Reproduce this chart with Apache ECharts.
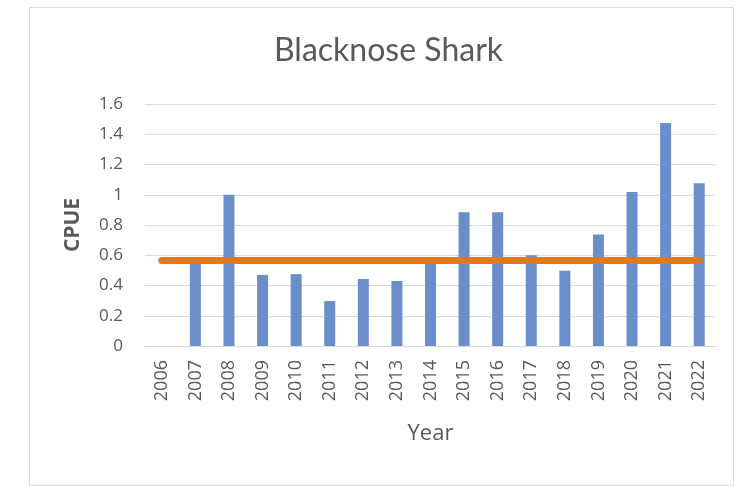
<!DOCTYPE html>
<html>
<head>
<meta charset="utf-8">
<script src="https://cdn.jsdelivr.net/npm/echarts@6/dist/echarts.min.js"></script>
<style>html,body{margin:0;padding:0;background:#fff}#c{width:744px;height:486px}</style>
</head>
<body>
<div id="c"></div>
<script>
var years = ['2006','2007','2008','2009','2010','2011','2012','2013','2014','2015','2016','2017','2018','2019','2020','2021','2022'];
var cpue = [null,0.55,1.00,0.47,0.475,0.297,0.443,0.43,0.55,0.885,0.885,0.60,0.498,0.737,1.018,1.474,1.076];
var meanCpue = [0.566,0.566,0.566,0.566,0.566,0.566,0.566,0.566,0.566,0.566,0.566,0.566,0.566,0.566,0.566,0.566,0.566];
var yTicks = [0,0.2,0.4,0.6,0.8,1,1.2,1.4,1.6];

var chart = echarts.init(document.getElementById('c'));
chart.setOption({
  animation: false,
  backgroundColor: '#fff',
  graphic: [{
    type: 'rect', left: 27, top: 5, shape: {width: 704, height: 478},
    style: {fill: 'none', stroke: '#d9d9d9', lineWidth: 1}, silent: true
  }],
  title: {
    text: 'Blacknose Shark', left: 269, top: 30,
    textStyle: {fontFamily: 'Lato', fontWeight: 400, fontSize: 32, color: '#595959'}
  },
  grid: {left: 145, right: 28, top: 104, bottom: 140},
  xAxis: {
    type: 'category', data: years,
    name: 'Year', nameLocation: 'middle', nameGap: 77,
    nameTextStyle: {fontFamily: 'Open Sans', fontSize: 22, color: '#595959'},
    axisLine: {lineStyle: {color: '#d9d9d9'}},
    axisTick: {show: false},
    axisLabel: {rotate: 90, margin: 14, fontFamily: 'Open Sans', fontSize: 18, color: '#595959', interval: 0}
  },
  yAxis: {
    type: 'value', min: 0, max: 1.6, interval: 0.2,
    name: 'CPUE', nameLocation: 'middle', nameGap: 61,
    nameTextStyle: {fontFamily: 'Open Sans', fontSize: 21, fontWeight: 'bold', color: '#595959'},
    axisLine: {show: false}, axisTick: {show: false},
    splitLine: {lineStyle: {color: '#d9d9d9'}},
    axisLabel: {fontFamily: 'Open Sans', fontSize: 17, color: '#595959', margin: 22,
      formatter: function (v) { var r = Math.round(v*10)/10; return yTicks.indexOf(r) >= 0 ? String(r) : ''; }}
  },
  series: [{
    type: 'bar', data: cpue, barWidth: 11,
    itemStyle: {color: '#6a8ec9'}
  }, {
    type: 'line', data: meanCpue, symbol: 'none',
    lineStyle: {color: '#e07a1f', width: 7, cap: 'round'}
  }]
});
</script>
</body>
</html>
